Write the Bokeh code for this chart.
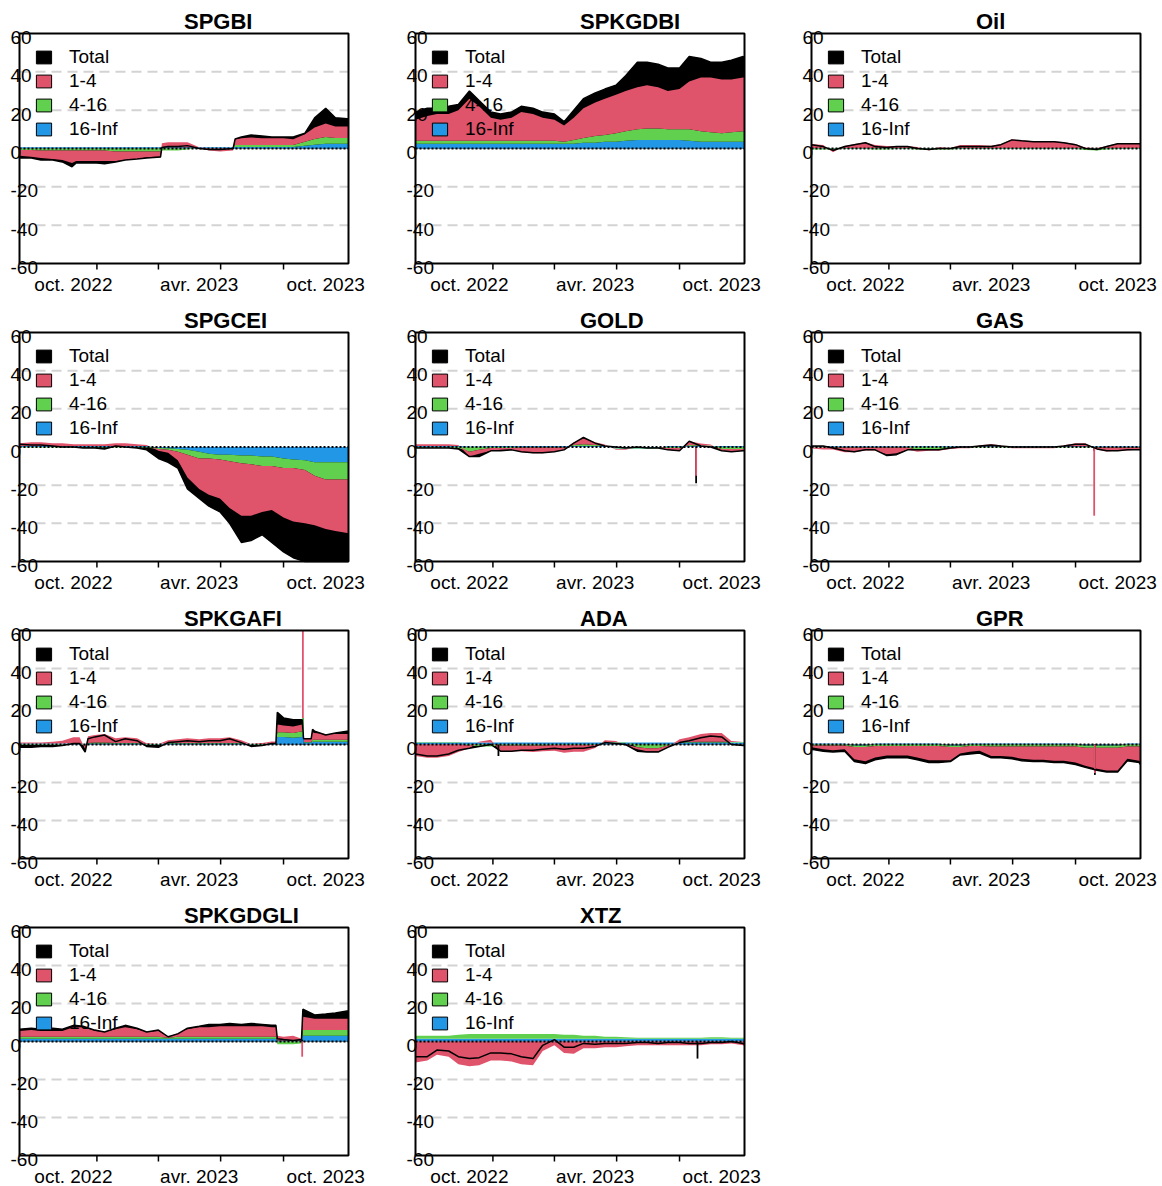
import numpy as np
import pandas as pd
from bokeh.plotting import figure
from bokeh.layouts import gridplot
from bokeh.models import Range1d, Label, Legend, LegendItem
from bokeh.core.properties import value
from bokeh.embed import file_html
from bokeh.resources import INLINE

# ---------------- data ----------------
std_dates = ["2022-07-15", "2022-08-01", "2022-08-15", "2022-09-01", "2022-09-15", "2022-10-01",
             "2022-10-15", "2022-11-01", "2022-11-15", "2022-12-01", "2022-12-15", "2023-01-01",
             "2023-01-15", "2023-02-01", "2023-02-15", "2023-03-01", "2023-03-15", "2023-04-01",
             "2023-04-15", "2023-05-01", "2023-05-15", "2023-06-01", "2023-06-15", "2023-07-01",
             "2023-07-15", "2023-08-01", "2023-08-15", "2023-09-01", "2023-09-15", "2023-10-01",
             "2023-10-15", "2023-11-01", "2023-11-03"]

spgbi_dates = ["2022-07-15", "2022-08-01", "2022-08-15", "2022-09-01", "2022-09-15", "2022-09-29",
               "2022-10-05", "2022-10-15", "2022-11-01", "2022-11-15", "2022-12-01", "2022-12-15",
               "2023-01-01", "2023-01-15", "2023-02-04", "2023-02-06", "2023-02-15", "2023-03-01",
               "2023-03-15", "2023-04-01", "2023-04-15", "2023-05-01", "2023-05-20", "2023-05-23",
               "2023-06-01", "2023-06-15", "2023-07-01", "2023-07-15", "2023-08-01", "2023-08-15",
               "2023-09-01", "2023-09-15", "2023-10-01", "2023-10-15", "2023-11-01", "2023-11-03"]
spgbi_total = [-5, -5, -6, -6, -7, -9.5, -7.5, -7.5, -7.5, -8, -7, -6, -5.5, -5, -4.5, 0.5, 1, 1,
               1.5, 0, -0.5, -0.5, 0, 5, 6, 7, 6.5, 6, 6, 6, 8, 16, 21, 16, 15.5, 15.5]
spgbi_r14 = [-3, -3.5, -4, -4.5, -5, -6.5, -5.5, -5.5, -5.5, -5.5, -5, -4.5, -4, -3, -2.5, 2, 2.5,
             2.5, 2.5, 0, -1, -1.5, -1, 3, 3.5, 4, 3.5, 3.5, 3.5, 3, 4, 6, 7, 6, 6, 6]
spgbi_r416 = [-0.8, -0.8, -1, -1, -1, -1, -1, -1, -1, -1, -1.5, -1.5, -1.5, -1.5, -1.5, -1, -1, -1,
              -0.5, 0, 0, 0, 0, 1, 1, 1, 1, 1, 1, 1, 2, 3, 3.5, 3, 3, 3]
spgbi_r16 = [0.7, 0.7, 0.7, 0.7, 0.7, 0.7, 0.7, 0.7, 0.7, 0.7, 0.7, 0.7, 0.7, 0.7, 0.7, 0.7, 0.7,
             0.7, 0.7, 0.7, 0.7, 0.7, 0.7, 0.8, 0.8, 0.8, 0.8, 0.8, 0.8, 0.8, 1.5, 2, 2.5, 2.5, 2.5, 2.5]

spkgdbi_total = [19, 21, 21, 22, 23, 30, 25, 19, 18, 19, 22, 21, 19, 18, 14, 20, 26, 29, 31, 33, 38,
                 45, 45, 44, 42, 42, 48, 47, 45, 45, 46, 48, 47]
spkgdbi_r14 = [11, 13, 14, 14, 16, 22, 18, 12, 11, 12, 15, 14, 12, 11, 8.5, 11.5, 15.5, 17.5, 19, 20,
               21, 22, 22.5, 21.5, 20, 21, 25, 28, 28.5, 28, 27.5, 28, 28]
spkgdbi_r416 = [1.5, 1.5, 1.5, 1.5, 1.5, 1.5, 1.5, 1.5, 1.5, 1.5, 1.5, 1.5, 1.5, 1.5, 1, 2, 2.5, 3.5,
                3.5, 4.5, 5, 5.5, 6, 6, 5.5, 5.5, 6, 5.5, 5, 4.5, 5, 5.5, 5.5]
spkgdbi_r16 = [2.5, 2.5, 2.5, 2.5, 2.5, 2.5, 2.5, 2.5, 2.5, 2.5, 2.5, 2.5, 2.5, 2.5, 2.5, 2.5, 3, 3,
               3.5, 3.5, 4, 4.5, 4.5, 4.5, 4.5, 4.5, 4, 3.5, 3.5, 3.5, 3.5, 3.5, 3.5]

oil_total = [2, 1, -1, 1, 2, 3, 1, 0.5, 1, 1, 0, -0.5, 0, 0, 1, 1, 1, 1, 2, 4.5, 4, 3.5, 3.5, 3.5,
             3, 2, 0, -0.5, 1, 2.5, 2.5, 2.5, 2.5]
oil_r14 = [2, 1.5, -1.5, 1, 2, 3, 1.5, 1, 1, 1, 0.5, -0.5, 0.3, 0, 1.5, 1.5, 1.5, 1.2, 2, 4.5, 4,
           3.5, 3.5, 3.5, 3, 2, 0.2, 0, 1, 2.5, 2.5, 2.5, 2.5]
oil_r416 = [-0.5, -0.5, -0.5, -0.3, -0.3, -0.3, -0.5, -0.5, -0.3, -0.3, -0.5, -0.5, -0.5, -0.5, -0.3,
            -0.3, -0.3, -0.3, -0.3, -0.2, -0.2, -0.2, -0.2, -0.2, -0.2, -0.3, -0.8, -1, -0.5, -0.3,
            -0.3, -0.3, -0.3]
oil_r16 = [0.3] * 33

spgcei_total = [1.5, 1, 1, 0.5, 0, 0, -0.5, -0.5, -1, 0.5, 0, -0.5, -1.5, -6, -8, -11, -22, -27, -31,
                -34, -40, -50, -49, -46, -50, -55, -58, -60, -61, -61, -61, -60, -60]
spgcei_r14 = [1.5, 2, 2, 1.5, 1.5, 1, 1, 1, 1, 1.5, 1.5, 1, 0.5, -1, -1.5, -4.5, -12, -16, -19, -20.5,
              -24.5, -27.5, -27, -24, -23, -26, -28, -28, -26, -26, -27, -28, -28]
spgcei_r416 = [-0.3, -0.3, -0.3, -0.3, -0.3, -0.3, -0.3, -0.3, -0.3, -0.3, -0.3, -0.3, -0.3, -0.5,
               -0.8, -1.5, -2.5, -3.5, -2.5, -2.5, -3.5, -4, -4.5, -5, -5, -5, -4.5, -5, -7, -9, -9,
               -9, -9]
spgcei_r16 = [0.5, 0.5, 0.5, 0.5, 0.5, 0.5, 0.5, 0.5, 0.5, 0.5, 0.5, 0.5, 0.5, -0.5, -0.7, -1, -1.5,
              -2.5, -3.5, -4, -4, -4.5, -4.5, -5, -5, -6, -6.5, -7, -8, -8, -8, -8, -8]

gold_total = [-0.5, -0.5, -0.5, -0.5, -1, -5, -5, -2, -2, -1.5, -2.5, -3, -3, -2.5, -1.5, 2, 5, 2,
              0.5, 0, -0.5, 0, -0.5, -0.5, -1.5, -2, 3, 0.5, 0, -2, -2.5, -2, -2]
gold_r14 = [1, 1, 1, 1, 0.5, -2.5, -2, -1.5, -1, -1, -2.5, -3, -3, -2, -1, 1.5, 3, 1.5, 0.5, -0.3,
            -0.3, 0, 0, 0, -1, -1.5, 2, 1, 0.5, -1, -1.5, -1, -1]
gold_r416 = [-0.5, -0.5, -0.5, -0.5, -0.5, -2.5, -1.5, -0.5, -0.5, -0.5, -0.3, -0.3, -0.3, -0.3, -0.3,
             0.5, 1, 0.5, 0.3, -0.3, -0.3, -0.3, -0.3, -0.3, -0.5, -0.5, 0.5, 0.3, 0.3, -1, -1, -1, -1]
gold_r16 = [0.5, 0.5, 0.5, 0.5, 0.5, 0.3, 0.3, 0.5, 0.5, 0.5, 0.5, 0.5, 0.5, 0.5, 0.5, 0.5, 0.5, 0.5,
            0.5, -0.8, -0.8, -0.8, -0.8, -0.5, 0.5, 0.5, 0.5, 0.5, 0.5, 0.5, 0.5, 0.5, 0.5]

gas_total = [0.5, 0.5, -0.5, -2, -2.5, -1.5, -1.5, -4.5, -4, -1.5, -1.5, -1.5, -1.5, -0.5, 0, 0, 0.5,
             1, 0.5, 0, 0, 0, 0, 0, 0.5, 1.5, 1.5, -1, -2, -2, -1.5, -1.5, -1.5]
gas_r14 = [-0.5, -1, -1, -2.5, -2.5, -1.5, -1.5, -3.5, -3, -1, -1, -0.5, -0.5, -0.5, -0.3, -0.3, 0.5,
           1, 0.5, -0.3, -0.3, -0.3, -0.3, -0.3, 0.5, 1.5, 1.5, -1, -2, -1.5, -1.5, -1, -1]
gas_r416 = [-0.3, -0.3, -0.3, -0.3, -0.3, -0.3, -0.3, -0.3, -0.3, -0.3, -1.5, -1.5, -1.5, -0.5, -0.3,
            -0.3, -0.3, -0.3, -0.3, -0.3, -0.3, -0.3, -0.3, -0.3, -0.3, -0.3, -0.3, -0.3, -0.3, -0.3,
            -0.3, -0.3, -0.3]
gas_r16 = [0.4] * 33

spkgafi_dates = ["2022-07-15", "2022-08-01", "2022-08-15", "2022-09-01", "2022-09-15", "2022-10-01",
                 "2022-10-10", "2022-10-18", "2022-10-22", "2022-11-01", "2022-11-15", "2022-12-01",
                 "2022-12-15", "2023-01-01", "2023-01-15", "2023-02-01", "2023-02-15", "2023-03-01",
                 "2023-03-15", "2023-04-01", "2023-04-15", "2023-05-01", "2023-05-15", "2023-06-01",
                 "2023-06-15", "2023-07-01", "2023-07-15", "2023-07-21", "2023-07-23", "2023-08-01",
                 "2023-08-15", "2023-08-28", "2023-08-30", "2023-09-10", "2023-09-12", "2023-09-15",
                 "2023-10-01", "2023-10-15", "2023-11-01", "2023-11-03"]
spkgafi_total = [-1.5, -1.5, -1, -1, -0.5, 0.5, 0.5, -4, 3, 4, 5, 1.5, 3, 2, -1, -1.5, 1, 1.5, 2, 1.5,
                 2, 2, 3, 1, -1, -0.5, 0.5, 0.5, 17, 14, 13, 13, 3, 3, 8, 7, 5, 6, 7, 7]
spkgafi_r14 = [0.5, 0.5, 0.5, 1, 1.5, 3, 3, -2, 3.5, 4, 4.5, 2.5, 3, 2.5, 0.3, 0, 1.5, 2, 2.5, 2, 2.5,
               2.5, 3, 1.5, 0, 0.5, 1, 1, 4, 3.5, 3.5, 3.5, 2, 2, 4, 3.5, 3, 3, 3, 3]
spkgafi_r416 = [-0.3, -0.3, -0.3, -0.3, -0.3, 0.3, 0.3, -0.5, 0.3, 0.5, 0.5, 0.3, 0.3, 0.3, -0.3, -0.3,
                0.3, 0.3, 0.3, 0.3, 0.3, 0.3, 0.3, 0.3, -0.3, -0.3, 0.3, 0.3, 2.5, 2.5, 2.5, 3, 0.3,
                0.3, 1, 1, 1, 1, 1, 1]
spkgafi_r16 = [0.5, 0.5, 0.5, 0.5, 0.5, 0.5, 0.5, 0.3, 0.5, 0.5, 0.5, 0.5, 0.5, 0.5, 0.3, 0.3, 0.5,
               0.5, 0.5, 0.5, 0.5, 0.5, 0.5, 0.5, 0.3, 0.3, 0.3, 0.3, 4, 4, 3.5, 4, 1, 1, 1.5, 1.5,
               1.5, 1.5, 1.5, 1.5]

ada_total = [-5, -6, -6, -5, -3, -2, -1, 0, -3.5, -3.5, -3, -3, -2.5, -2, -2.5, -2, -2, -1, 1, 0.5, 0,
             -3.5, -4, -4, -1.5, 1, 2, 3.5, 4.5, 4, 0, -0.5, -0.5]
ada_r14 = [-6, -7, -7, -6, -4, -1.5, 0.5, 1.5, -3, -3, -3, -3.5, -3, -3, -4, -3.5, -3.5, -1.5, 1, 0.5,
           -0.5, -1, -1.5, -1.5, -1, 1.5, 2.5, 4, 4.5, 4.5, 0.5, 0, 0]
ada_r416 = [0.3, 0.3, 0.3, 0.3, 0.3, -0.5, -1, -1, -0.5, -0.5, -0.5, -0.5, -0.5, -0.3, -0.3, -0.3,
            -0.3, -0.3, 0.3, 0.3, 0.3, -1.5, -2, -2, -0.5, 0.3, 0.3, 0.5, 0.5, 0.5, 0.3, 0.3, 0.3]
ada_r16 = [1] * 33

gpr_total = [-2.5, -3.5, -4, -3.5, -9, -10, -8, -7, -7, -7, -8, -9.5, -9.5, -9, -5.5, -5, -4.5, -7,
             -7, -7.5, -8.5, -9, -9, -9.5, -9.5, -10.5, -12, -13.5, -14.5, -14.5, -8.5, -9.5, -10.5]
gpr_r14 = [-1, -2, -2.5, -2, -6.5, -7.5, -6, -5, -5, -5, -6, -7.5, -7.5, -7, -3.5, -3, -2.5, -5, -5,
           -5.5, -6.5, -7, -7, -7.5, -7.5, -8.5, -9.5, -11, -12, -12, -6.5, -7.5, -8.5]
gpr_r416 = [-0.5, -0.5, -0.5, -0.5, -0.8, -0.8, -0.8, -0.8, -0.8, -0.8, -0.8, -0.8, -0.8, -0.8, -0.8,
            -0.8, -0.8, -1, -1, -1, -1, -1, -1, -1, -1, -1, -1.2, -1.2, -1.2, -1.2, -1, -1, -1]
gpr_r16 = [0.5, 0.5, 0.5, 0.5, -0.5, -0.5, 0.5, 0.5, 0.5, 0.5, 0.5, 0.5, 0.5, -0.5, -0.5, 0.5, 0.5,
           0.5, 0.5, 0.5, 0.5, 0.5, 0.5, 0.5, 0.5, 0.5, -0.5, -0.5, -0.5, -0.5, 0.5, 0.5, 0.5]

spkgdgli_dates = ["2022-07-15", "2022-08-01", "2022-08-15", "2022-09-01", "2022-09-15", "2022-10-01",
                  "2022-10-15", "2022-11-01", "2022-11-15", "2022-12-01", "2022-12-15", "2023-01-01",
                  "2023-01-15", "2023-02-01", "2023-02-15", "2023-03-01", "2023-03-15", "2023-04-01",
                  "2023-04-15", "2023-05-01", "2023-05-15", "2023-06-01", "2023-06-15", "2023-07-01",
                  "2023-07-15", "2023-07-21", "2023-07-23", "2023-08-01", "2023-08-15", "2023-08-27",
                  "2023-08-29", "2023-09-15", "2023-10-01", "2023-10-15", "2023-11-01", "2023-11-03"]
spkgdgli_total = [6.5, 7, 6.5, 7, 6.5, 8.5, 8, 6, 5, 7, 8.5, 7, 5, 6, 2.5, 4, 7, 8, 9, 9, 9.5, 9, 9.5,
                  9, 8.5, 8.5, 1.5, 1, 0.5, 1, 17, 14, 14.5, 15, 16, 16]
spkgdgli_r14 = [3, 3.5, 3, 3, 3, 5, 5, 3, 2.5, 4, 5, 4, 2.5, 3, 0.5, 2, 4, 5, 5, 5.5, 5.5, 5.5, 5.5,
                5.5, 5, 5, 2.5, 2, 2.5, 1, 7, 6, 6, 6, 6, 6]
spkgdgli_r416 = [1, 1, 1, 1, 1, 1, 1, 1, 1, 1, 1, 1, 1, 1, 0.5, 1, 1, 1, 1, 1, 1, 1, 1, 1, 1, 1, -1.5,
                 -1.5, -1.5, -1, 3, 3, 3, 3, 3, 3]
spkgdgli_r16 = [1.5] * 26 + [0.5, 0.5, 0.5, 0.5] + [3, 3, 3, 3, 3, 3]

xtz_total = [-8, -8, -4.5, -5, -8, -9, -8.5, -6, -6, -6.5, -8, -9, -2, 1, -3, -3, -1, -1.5, -1, -1, -1,
             -0.5, -0.5, -1, -0.5, -0.5, -1, -1, -0.5, -0.5, 0, -1, -1.5]
xtz_r14 = [-11, -10, -7, -8, -12, -13, -12.5, -10, -10, -10.5, -12, -12.5, -5, -2, -6, -6.5, -3.5,
           -3.5, -3, -3, -2.5, -2, -2, -2, -2, -2, -2, -2, -1.5, -1.5, -1, -2, -2.5]
xtz_r416 = [1.5, 1.5, 1.5, 1.5, 2, 2.5, 2.5, 2.5, 2.5, 2.5, 2.5, 2.5, 2.5, 2.5, 2, 2, 1.5, 1.5, 1, 1,
            0.8, 0.5, 0.5, 0.5, 0.5, 0.5, 0.5, 0.5, 0.8, 0.8, 0.5, 0.5, 0.5]
xtz_r16 = [1.5] * 33

# isolated one-day spikes
spike_name = ["GOLD", "GAS", "SPKGAFI", "SPKGDGLI", "GPR", "ADA", "XTZ"]
spike_date = ["2023-08-25", "2023-08-28", "2023-08-29", "2023-08-28", "2023-08-29", "2022-11-12", "2023-08-27"]
spike_total = [-19, -2, 14, 1, -16, -6, -9]
spike_r14 = [-15, -36, 52, -8, -15, 0, 0]
spike_r416 = [0, 0, 9, 0, 0, 0, 0]
spike_r16 = [0, 0, 5, 0, 0, 0, 0]

x_start, x_end = "2022-07-15", "2023-11-03"
x_tick_dates = ["2022-11-04", "2023-02-01", "2023-05-02", "2023-08-01"]
x_label_dates = ["2022-10-01", "2023-04-01", "2023-10-01"]
x_label_text = ["oct. 2022", "avr. 2023", "oct. 2023"]
y_ticks = [-60, -40, -20, 0, 20, 40, 60]
y_grid = [-40, -20, 20, 40]
y_min, y_max = -60, 60
series_names = ["Total", "1-4", "4-16", "16-Inf"]
series_colors = ["black", "#DF536B", "#61D04F", "#2297E6"]

panels = [
    ("SPGBI", spgbi_dates, spgbi_total, spgbi_r14, spgbi_r416, spgbi_r16),
    ("SPKGDBI", std_dates, spkgdbi_total, spkgdbi_r14, spkgdbi_r416, spkgdbi_r16),
    ("Oil", std_dates, oil_total, oil_r14, oil_r416, oil_r16),
    ("SPGCEI", std_dates, spgcei_total, spgcei_r14, spgcei_r416, spgcei_r16),
    ("GOLD", std_dates, gold_total, gold_r14, gold_r416, gold_r16),
    ("GAS", std_dates, gas_total, gas_r14, gas_r416, gas_r16),
    ("SPKGAFI", spkgafi_dates, spkgafi_total, spkgafi_r14, spkgafi_r416, spkgafi_r16),
    ("ADA", std_dates, ada_total, ada_r14, ada_r416, ada_r16),
    ("GPR", std_dates, gpr_total, gpr_r14, gpr_r416, gpr_r16),
    ("SPKGDGLI", spkgdgli_dates, spkgdgli_total, spkgdgli_r14, spkgdgli_r416, spkgdgli_r16),
    ("XTZ", std_dates, xtz_total, xtz_r14, xtz_r416, xtz_r16),
]

# ---------------- layout / style ----------------
FONT = "Liberation Sans"
DAY = 86400000.0
CELL_W = [396, 396, 368]
CELL_H = [299, 298, 297, 292]
BOX_H = [230, 229, 228, 228]
BOX_LEFT, BOX_TOP, BOX_W = 19, 33, 329
COMP_COLORS = ["#2297E6", "#61D04F", "#DF536B"]   # 16-Inf, 4-16, 1-4 (stack order from zero)


def ms(d):
    return (pd.Timestamp(d) - pd.Timestamp("1970-01-01")).total_seconds() * 1000.0


PX_PER_MS = BOX_W / (ms(x_end) - ms(x_start))


def stack(comps):
    n = len(comps[0])
    pos = np.zeros(n)
    neg = np.zeros(n)
    out = []
    for c in comps:
        c = np.asarray(c, dtype=float)
        base = np.where(c >= 0, pos, neg)
        top = base + c
        pos = np.where(c >= 0, top, pos)
        neg = np.where(c < 0, top, neg)
        out.append((base, top))
    return out


def clip(a):
    return np.clip(np.asarray(a, dtype=float), y_min, y_max)


def make_panel(name, dates, total, r14, r416, r16, row, col):
    cw, ch, bh = CELL_W[col], CELL_H[row], BOX_H[row]
    upp = (y_max - y_min) / bh
    xs0 = ms(x_start) - BOX_LEFT / PX_PER_MS
    xs1 = xs0 + cw / PX_PER_MS
    ys1 = y_max + BOX_TOP * upp
    ys0 = ys1 - ch * upp
    p = figure(x_range=Range1d(xs0, xs1), y_range=Range1d(ys0, ys1),
               frame_width=cw, frame_height=ch, min_border=0,
               x_axis_location=None, y_axis_location=None,
               toolbar_location=None, output_backend="svg", title=None)
    p.outline_line_color = None
    p.background_fill_color = "white"
    p.border_fill_color = "white"
    p.grid.visible = False

    xa, xb = ms(x_start), ms(x_end)
    x = np.array([ms(d) for d in dates])

    # dashed horizontal grid
    p.segment(x0=[xa] * len(y_grid), x1=[xb] * len(y_grid), y0=y_grid, y1=y_grid,
              line_color="#D3D3D3", line_width=2, line_dash="10 6")

    # total bars behind
    p.varea(x=x, y1=np.zeros(len(x)), y2=clip(total), fill_color="black")
    # stacked components
    for (base, top), c in zip(stack([r16, r416, r14]), COMP_COLORS):
        p.varea(x=x, y1=clip(base), y2=clip(top), fill_color=c)

    # spikes
    for i, sn in enumerate(spike_name):
        if sn != name:
            continue
        d = ms(spike_date[i])
        l, r = d - 1.3 * DAY, d + 1.3 * DAY
        p.quad(left=[l], right=[r], bottom=[0], top=clip([spike_total[i]]),
               fill_color="black", line_color=None)
        for (b, t), c in zip(stack([[spike_r16[i]], [spike_r416[i]], [spike_r14[i]]]), COMP_COLORS):
            if t[0] != b[0]:
                p.quad(left=[l], right=[r], bottom=clip(b), top=clip(t), fill_color=c, line_color=None)

    # dotted zero line
    p.segment(x0=[xa], x1=[xb], y0=[0], y1=[0], line_color="black", line_width=2, line_dash="2 2")

    # box
    p.quad(left=[xa], right=[xb], bottom=[y_min], top=[y_max], fill_color=None,
           line_color="black", line_width=2)

    # x tick marks
    tx = [ms(t) for t in x_tick_dates]
    p.segment(x0=tx, x1=tx, y0=[y_min] * len(tx), y1=[y_min - 6 * upp] * len(tx),
              line_color="black", line_width=1.5)

    # legend
    items = []
    for lab, c in zip(series_names, series_colors):
        rr = p.quad(left=[np.nan], right=[np.nan], top=[np.nan], bottom=[np.nan],
                    fill_color=c, line_color="black", line_width=1)
        items.append(LegendItem(label=value(lab), renderers=[rr]))
    leg = Legend(items=items, location=(BOX_LEFT + 15, ch - BOX_TOP - 12 - 96),
                 glyph_width=19, glyph_height=16, label_standoff=16, label_height=24,
                 spacing=0, padding=0, margin=0, border_line_color=None,
                 background_fill_alpha=0, label_text_font=FONT, label_text_font_size="19px",
                 label_text_color="black")
    p.add_layout(leg)

    # y tick labels
    for v in y_ticks:
        p.add_layout(Label(x=xa, y=v, x_offset=-9, y_offset=2.5, text=str(v), text_align="left",
                           text_baseline="top", text_font=FONT, text_font_size="19px",
                           text_color="black"))
    # x tick labels
    for d, t in zip(x_label_dates, x_label_text):
        p.add_layout(Label(x=ms(d), y=y_min, y_offset=-10, text=t, text_align="center",
                           text_baseline="top", text_font=FONT, text_font_size="19px",
                           text_color="black"))
    # title (left edge at the centre of the box, as in the reference)
    p.add_layout(Label(x=(xa + xb) / 2, y=y_max, y_offset=25, text=name, text_align="left",
                       text_baseline="top", text_font=FONT, text_font_style="bold",
                       text_font_size="22px", text_color="black"))

    # total line on top of everything
    p.line(x=x, y=clip(total), line_color="black", line_width=1.5, level="overlay")
    return p


figs = []
for i, (name, dates, total, r14, r416, r16) in enumerate(panels):
    row_i, col = divmod(i, 3)
    figs.append(make_panel(name, dates, total, r14, r416, r16, row_i, col))

rows = [figs[0:3], figs[3:6], figs[6:9], [figs[9], figs[10], None]]
grid = gridplot(rows, toolbar_location=None)

open("out.html", "w").write(file_html(grid, INLINE))
